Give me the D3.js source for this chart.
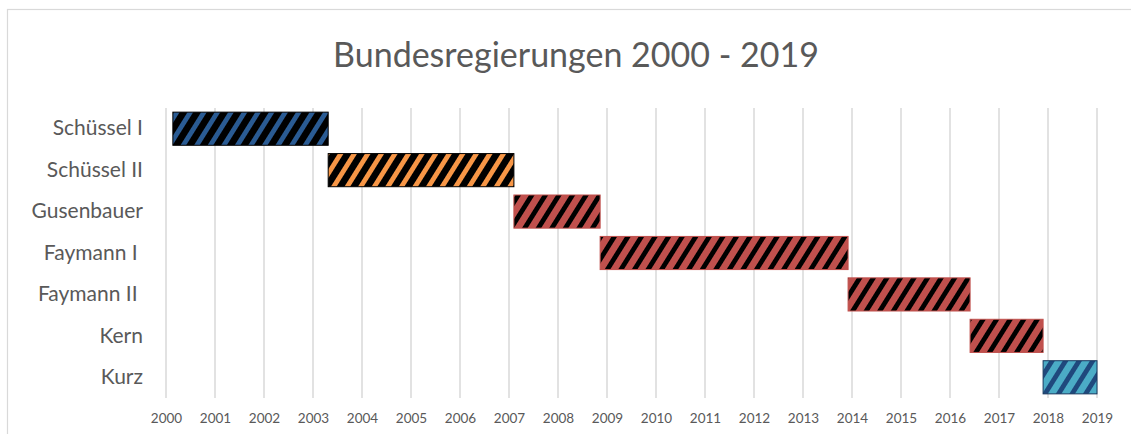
<!DOCTYPE html>
<html>
<head>
<meta charset="utf-8">
<script src="https://cdn.jsdelivr.net/npm/d3@7"></script>
<style>
  body { margin: 0; background: #fff; }
  svg { display: block; font-family: Lato, 'Open Sans', sans-serif; }
</style>
</head>
<body>
<div id="chart"></div>
<script>
// Regierungen (Kategorien) und Amtszeiten (in Jahren)
var regierungen = ['Schüssel I', 'Schüssel II', 'Gusenbauer', 'Faymann I ', 'Faymann II ', 'Kern', 'Kurz']
var beginn = [2000.14, 2003.31, 2007.10, 2008.86, 2013.92, 2016.41, 2017.90]
var ende = [2003.31, 2007.10, 2008.86, 2013.92, 2016.41, 2017.90, 2019.00]
var jahre = d3.range(2000, 2020)

// Farben je Balken: Grund, Streifen, Rand
var fuellung = ['#000000', '#000000', '#C0504D', '#C0504D', '#C0504D', '#C0504D', '#4BACC6']
var streifen = ['#2A5B93', '#F79646', '#000000', '#000000', '#000000', '#000000', '#1F497D']
var rand = ['#000000', '#000000', '#C0504D', '#C0504D', '#C0504D', '#C0504D', '#17375E']

var width = 1131
var height = 434

var svg = d3.select('#chart').append('svg')
  .attr('width', width)
  .attr('height', height)

// Rahmen
svg.append('rect')
  .attr('x', 7.5).attr('y', 9.5)
  .attr('width', width + 10).attr('height', height + 10)
  .attr('fill', 'none')
  .attr('stroke', '#D9D9D9')
  .attr('stroke-width', 1.2)

// Schraffur-Muster
var defs = svg.append('defs')
regierungen.forEach(function (d, i) {
  var p = defs.append('pattern')
    .attr('id', 'muster' + i)
    .attr('patternUnits', 'userSpaceOnUse')
    .attr('width', 11.5).attr('height', 11.5)
    .attr('patternTransform', 'rotate(32)')
  p.append('rect').attr('width', 11.5).attr('height', 11.5).attr('fill', fuellung[i])
  p.append('rect').attr('width', 4.8).attr('height', 11.5).attr('fill', streifen[i])
})

var x = d3.scaleLinear()
  .domain([2000, 2019])
  .range([166, 1097])

var y = d3.scaleBand()
  .domain(regierungen)
  .range([108, 398])
  .paddingInner(0.2)
  .paddingOuter(0.1)

// Titel
svg.append('text')
  .attr('x', 576)
  .attr('y', 67)
  .attr('text-anchor', 'middle')
  .attr('font-size', '34px')
  .attr('fill', '#595959')
  .text('Bundesregierungen 2000 - 2019')

// Gitterlinien
svg.append('g')
  .selectAll('line')
  .data(jahre)
  .enter()
  .append('line')
  .attr('x1', function (d) { return x(d) })
  .attr('x2', function (d) { return x(d) })
  .attr('y1', 108)
  .attr('y2', 398)
  .attr('stroke', '#D9D9D9')
  .attr('stroke-width', 1.5)

// x-Achse
var xAchse = svg.append('g')
  .attr('transform', 'translate(0, 398)')
  .call(d3.axisBottom(x)
    .tickValues(jahre)
    .tickFormat(d3.format('d'))
    .tickSize(0)
    .tickPadding(15))
xAchse.select('.domain').remove()
xAchse.selectAll('text')
  .attr('font-family', 'Lato, sans-serif')
  .attr('font-size', '13.5px')
  .attr('fill', '#595959')

// y-Achse (Beschriftungen)
var yAchse = svg.append('g')
  .attr('transform', 'translate(143, 0)')
  .call(d3.axisLeft(y).tickSize(0).tickPadding(0))
yAchse.select('.domain').remove()
yAchse.selectAll('text')
  .attr('font-family', 'Lato, sans-serif')
  .attr('font-size', '21px')
  .attr('fill', '#595959')
  .style('white-space', 'pre')

// Balken
svg.append('g')
  .selectAll('rect')
  .data(regierungen)
  .enter()
  .append('rect')
  .attr('x', function (d, i) { return x(beginn[i]) })
  .attr('y', function (d) { return y(d) })
  .attr('width', function (d, i) { return x(ende[i]) - x(beginn[i]) })
  .attr('height', y.bandwidth())
  .attr('fill', function (d, i) { return 'url(#muster' + i + ')' })
  .attr('stroke', function (d, i) { return rand[i] })
  .attr('stroke-width', 1)
</script>
</body>
</html>
